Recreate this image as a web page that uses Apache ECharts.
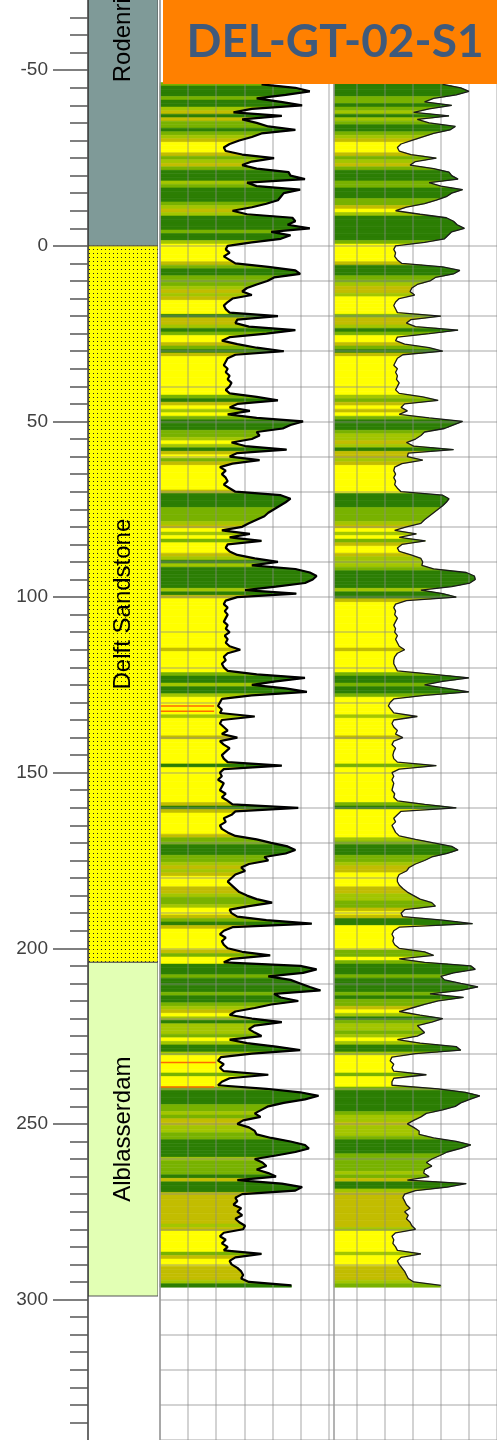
<!DOCTYPE html>
<html><head><meta charset="utf-8">
<script src="https://cdn.jsdelivr.net/npm/echarts@6/dist/echarts.min.js"></script>
<style>html,body{margin:0;padding:0;background:#fff;overflow:hidden}#c{width:497px;height:1440px}</style>
</head><body><div id="c"></div>
<script>
// ---------- data ----------
const depthStart = -46;   // first sample depth
const depthStep = 1;      // sampling interval
// Log values, track 1 (raw curve)
const gr1 = [
105,140,155,130,100,125,147,95,76,126,
85,100,112,140,105,95,82,72,66,68,
85,118,95,85,100,133,135,150,90,100,
145,128,125,122,110,95,75,90,137,140,
132,155,115,135,125,95,
70,68,72,66,72,78,112,140,145,118,
111,100,90,85,95,75,70,66,68,72,
122,80,78,92,140,110,72,64,80,100,
128,78,70,68,66,70,68,72,70,74,
72,68,72,100,122,80,72,93,70,100,
148,135,127,100,103,95,74,88,131,80,
72,103,75,62,68,64,68,70,66,72,
78,125,135,130,124,118,112,108,100,92,
85,64,93,72,105,70,68,72,80,98,
122,95,140,155,162,158,150,120,88,141,
80,68,66,70,67,70,68,66,70,68,
72,67,70,68,72,83,70,66,68,64,
66,70,100,150,120,95,130,152,95,64,
62,60,64,62,98,64,62,66,70,64,
80,62,66,72,68,64,66,70,126,66,
62,64,60,66,64,62,68,64,70,75,
143,78,74,66,68,62,64,70,78,100,
115,132,140,130,108,112,92,84,88,78,
74,70,74,78,82,90,100,116,92,72,
74,80,110,157,75,66,62,68,64,66,
70,85,114,74,66,145,162,148,112,135,
145,155,166,118,125,143,115,98,78,72,
95,126,98,92,98,105,72,90,120,145,
95,63,60,66,62,66,112,72,64,60,
110,145,164,150,128,112,105,98,104,86,
80,92,98,100,115,135,150,154,140,120,
98,106,110,100,112,120,80,126,147,140,
85,78,80,76,84,80,85,78,82,88,
86,66,62,68,64,70,66,105,78,72,
74,80,84,86,84,92,136
];
// Log values, track 2 (smoothed curve)
const gr2 = [
120,140,149,135,110,100,130,105,88,127,
92,105,134,128,110,98,86,74,70,72,
85,113,90,84,110,127,130,137,105,118,
142,130,124,113,100,80,68,95,124,132,
136,144,130,126,122,100,
68,66,68,67,70,75,120,139,132,112,
106,92,86,84,89,72,68,66,68,70,
118,85,80,90,137,105,70,68,78,105,
120,76,70,68,66,70,68,70,69,72,
70,68,72,98,115,78,74,81,72,105,
142,132,122,100,96,90,80,88,132,82,
81,98,75,67,66,68,66,68,67,70,
74,120,127,124,120,115,110,105,100,96,
80,67,91,72,101,75,70,72,85,96,
98,97,110,146,155,156,150,130,96,120,
135,80,68,66,68,67,70,68,66,68,
67,70,68,70,72,78,70,67,66,66,
68,70,110,149,120,100,125,149,100,66,
62,60,63,66,92,66,64,66,70,68,
76,66,64,68,66,65,66,70,113,72,
64,66,64,66,65,64,67,66,70,100,
135,74,70,66,68,64,66,68,72,90,
110,130,137,125,108,100,90,83,80,72,
70,70,72,76,81,88,95,108,112,78,
74,76,120,153,72,66,64,66,65,67,
72,100,110,72,100,151,156,132,118,122,
140,159,140,106,143,115,100,86,72,95,
120,108,92,96,100,92,70,95,135,140,
90,64,62,66,64,66,102,66,64,64,
115,145,161,150,140,134,120,102,96,88,
81,88,94,94,110,135,151,140,125,117,
108,102,108,100,99,105,81,146,125,90,
78,76,78,80,84,78,82,80,84,86,
90,68,64,66,65,68,70,96,74,70,
72,75,78,80,82,88,118
];
// Thin orange flag lines in track 1 fill (depths) and their extent
const flagDepths1 = [131, 132.5, 232.5, 239.5];
const flagValues1 = [56, 56, 58, 56];
// Formations
const formationNames = ['Rodenrijs', 'Delft Sandstone', 'Alblasserdam'];
const formationTops  = [-122, 0, 204];
const formationBases = [0, 204, 299];
// Depth axis labels
const depthLabels = [-50, 0, 50, 100, 150, 200, 250, 300];
const titleText = 'DEL-GT-02-S1';

// ---------- styles ----------
const bandLimits = [75, 88, 100, 120];
const bandColors = ['#FFFF00', '#C2BD00', '#A3C600', '#78B200', '#2C7E04'];
function bandColor(v){ let k = 0; while (k < bandLimits.length && v >= bandLimits[k]) k++; return bandColors[k]; }

const pat = document.createElement('canvas'); pat.width = 4; pat.height = 4;
const pg = pat.getContext('2d'); pg.fillStyle = '#FFFF00'; pg.fillRect(0,0,4,4); pg.fillStyle = '#222'; pg.fillRect(1,1,1,1);
const formationFills = ['#7F9A98', {image: pat, repeat: 'repeat'}, '#E2FFB4'];

const minorTicks = []; for (let t = -65; t <= 335; t += 5) minorTicks.push(t);

function fillTable(arr){
  return arr.map((v,i) => {
    const p = i > 0 ? arr[i-1] : v, n = i < arr.length-1 ? arr[i+1] : v;
    return [depthStart + i*depthStep, v, (p+v)/2, (n+v)/2];
  });
}
function renderFill(params, api){
  const d = api.value(0), v = api.value(1), vp = api.value(2), vn = api.value(3), h = depthStep/2;
  const pts = [[0,d-h],[vp,d-h],[v,d],[vn,d+h],[0,d+h]].map(p => api.coord(p));
  const c = bandColor(v);
  return {type:'polygon', shape:{points:pts}, style:{fill:c, stroke:c, lineWidth:0.6}};
}
function renderFlag(params, api){
  const d = api.value(0), v = api.value(1);
  const a = api.coord([0, d]), b = api.coord([v, d]);
  return {type:'line', shape:{x1:a[0], y1:a[1], x2:b[0], y2:b[1]}, style:{stroke:'#FF6A00', lineWidth:1.5}};
}
function renderFormation(params, api){
  const i = params.dataIndex;
  const p0 = api.coord([0, formationTops[i]]), p1 = api.coord([1, formationBases[i]]);
  const cy = api.coord([0, (formationTops[i]+formationBases[i])/2])[1];
  return {type:'group', children:[
    {type:'rect', shape:{x:p0[0], y:p0[1], width:p1[0]-p0[0], height:p1[1]-p0[1]},
     style:{fill:formationFills[i], stroke:'#555', lineWidth:1}},
    {type:'text', x:(p0[0]+p1[0])/2, y:cy, rotation:Math.PI/2,
     style:{text:formationNames[i], fill:'#000', font:'24px "Liberation Sans", Arial, sans-serif', align:'center', verticalAlign:'middle'}}
  ]};
}

const DMIN = -70, DMAX = 340;
const yDepth = (gi, extra) => Object.assign({type:'value', gridIndex:gi, min:DMIN, max:DMAX, inverse:true, show:false}, extra||{});

const chart = echarts.init(document.getElementById('c'), null, {renderer:'canvas'});
chart.setOption({
  animation:false,
  grid:[
    {left:88, width:70, top:0, height:1440},          // 0 lithology
    {left:160, width:174, top:0, height:1440},        // 1 track 1
    {left:334, width:174, top:0, height:1440},        // 2 track 2
    {left:160, width:348, top:0, height:1440},        // 3 vertical grid lines
    {left:160, width:348, top:245.85, height:1194.15} // 4 horizontal grid lines (depth >= 0)
  ],
  xAxis:[
    {type:'value', gridIndex:0, min:0, max:1, show:false},
    {type:'value', gridIndex:1, min:0, max:180, show:false},
    {type:'value', gridIndex:2, min:0, max:180, show:false},
    {type:'value', gridIndex:3, min:0, max:12, interval:1, z:3,
     axisLine:{show:false}, axisTick:{show:false}, axisLabel:{show:false},
     splitLine:{show:true, lineStyle:{color:'rgba(140,140,140,0.5)', width:1.5}}},
    {type:'value', gridIndex:4, min:0, max:12, show:false}
  ],
  yAxis:[
    {type:'value', gridIndex:0, min:DMIN, max:DMAX, inverse:true, position:'left', z:4,
     axisLine:{show:true, onZero:false, lineStyle:{color:'#3a3a3a', width:1.5}},
     axisTick:{show:true, customValues:depthLabels, length:35, lineStyle:{color:'#555', width:1.5}},
     axisLabel:{show:true, customValues:depthLabels, margin:40, fontSize:19, color:'#404040', fontFamily:'"Liberation Sans", Arial, sans-serif'},
     splitLine:{show:false}},
    {type:'value', gridIndex:0, min:DMIN, max:DMAX, inverse:true, position:'left', z:4,
     axisLine:{show:false},
     axisTick:{show:true, customValues:minorTicks, length:18, lineStyle:{color:'#555', width:1.5}},
     axisLabel:{show:false}, splitLine:{show:false}},
    yDepth(1, {show:true, axisLine:{show:true, lineStyle:{color:'#9a9a9a', width:1.5}}, axisTick:{show:false}, axisLabel:{show:false}, splitLine:{show:false}, z:3}),
    yDepth(2, {show:true, axisLine:{show:true, lineStyle:{color:'#9a9a9a', width:1.5}}, axisTick:{show:false}, axisLabel:{show:false}, splitLine:{show:false}, z:3}),
    yDepth(3),
    {type:'value', gridIndex:4, min:0, max:DMAX, interval:10, inverse:true, z:3,
     axisLine:{show:false}, axisTick:{show:false}, axisLabel:{show:false},
     splitLine:{show:true, lineStyle:{color:'rgba(140,140,140,0.5)', width:1.5}}}
  ],
  series:[
    {type:'custom', name:'formations', xAxisIndex:0, yAxisIndex:0, z:2, clip:true,
     data:formationNames.map((n,i)=>[0, formationTops[i], formationBases[i]]), encode:{x:0, y:1},
     renderItem:renderFormation},
    {type:'custom', name:'fill1', xAxisIndex:1, yAxisIndex:2, z:1, data:fillTable(gr1), encode:{x:1, y:0}, renderItem:renderFill},
    {type:'custom', name:'fill2', xAxisIndex:2, yAxisIndex:3, z:1, data:fillTable(gr2), encode:{x:1, y:0}, renderItem:renderFill},
    {type:'custom', name:'flags1', xAxisIndex:1, yAxisIndex:2, z:2, data:flagDepths1.map((d,i)=>[d, flagValues1[i]]), encode:{x:1, y:0}, renderItem:renderFlag},
    {type:'line', name:'GR1', xAxisIndex:1, yAxisIndex:2, z:5, showSymbol:false, symbol:'none', clip:false,
     data:gr1.map((v,i)=>[v, depthStart+i*depthStep]), lineStyle:{color:'#000', width:2.2}},
    {type:'line', name:'GR2', xAxisIndex:2, yAxisIndex:3, z:5, showSymbol:false, symbol:'none', clip:false,
     data:gr2.map((v,i)=>[v, depthStart+i*depthStep]), lineStyle:{color:'#1a1a1a', width:1.3}}
  ],
  graphic:[
    {type:'rect', z:100, shape:{x:163, y:0, width:340, height:84}, style:{fill:'#FF8000'}},
    {type:'text', z:101, x:335, y:42, style:{text:titleText, font:'bold 46px Lato, "Open Sans", sans-serif', fill:'#3F5A7C', align:'center', verticalAlign:'middle'}}
  ]
});
</script></body></html>
